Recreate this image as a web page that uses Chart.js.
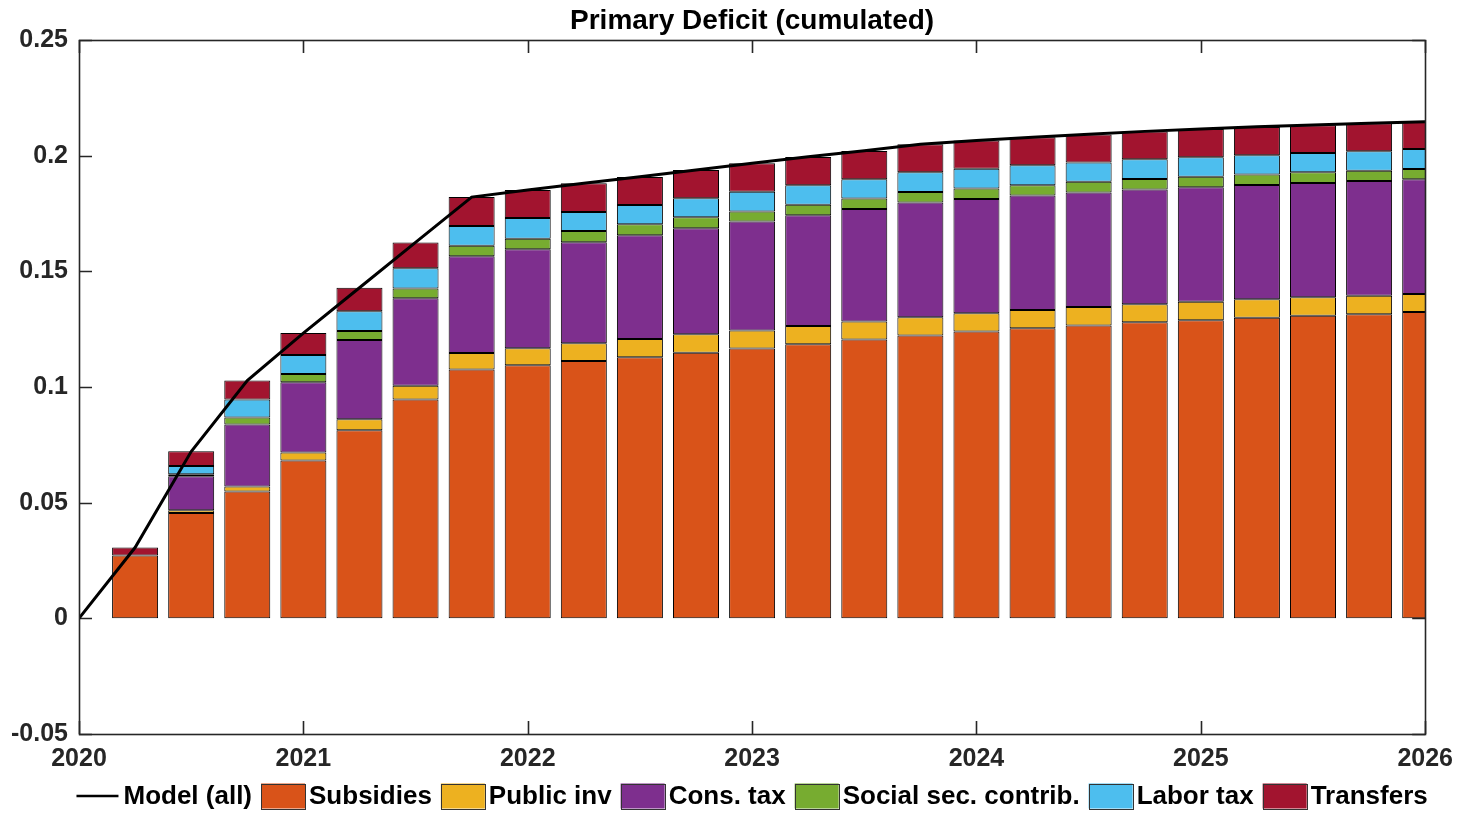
<!DOCTYPE html>
<html>
<head>
<meta charset="utf-8">
<title>Primary Deficit (cumulated)</title>
<script src="https://cdn.jsdelivr.net/npm/chart.js@4.4.1/dist/chart.umd.min.js"></script>
<style>
  html, body { margin: 0; padding: 0; background: #ffffff; }
  canvas { display: block; }
</style>
</head>
<body>
<canvas id="deficit" width="1463" height="814"></canvas>
<script>
// Quarterly periods (decimal years) for the decomposition bars
const quarters = [
  2020.25, 2020.5, 2020.75, 2021.0, 2021.25, 2021.5, 2021.75, 2022.0,
  2022.25, 2022.5, 2022.75, 2023.0, 2023.25, 2023.5, 2023.75, 2024.0,
  2024.25, 2024.5, 2024.75, 2025.0, 2025.25, 2025.5, 2025.75, 2026.0
];

// Contribution of each instrument to the cumulated primary deficit (share of GDP)
const subsidies = [
  0.0272, 0.0455, 0.0548, 0.0682, 0.0813, 0.0946, 0.1076, 0.1094,
  0.1112, 0.1129, 0.1148, 0.1166, 0.1185, 0.1205, 0.1223, 0.1240,
  0.1254, 0.1266, 0.1280, 0.1289, 0.1299, 0.1308, 0.1315, 0.1324
];
const publicInv = [
  0.0000, 0.0012, 0.0022, 0.0035, 0.0048, 0.0059, 0.0071, 0.0074,
  0.0077, 0.0078, 0.0080, 0.0078, 0.0079, 0.0078, 0.0079, 0.0079,
  0.0079, 0.0080, 0.0078, 0.0079, 0.0080, 0.0080, 0.0079, 0.0078
];
const consTax = [
  0.0000, 0.0147, 0.0268, 0.0303, 0.0342, 0.0379, 0.0418, 0.0427,
  0.0437, 0.0449, 0.0458, 0.0471, 0.0478, 0.0486, 0.0496, 0.0494,
  0.0495, 0.0495, 0.0496, 0.0496, 0.0494, 0.0494, 0.0496, 0.0496
];
const socialSec = [
  0.0000, 0.0009, 0.0030, 0.0036, 0.0039, 0.0042, 0.0046, 0.0046,
  0.0048, 0.0048, 0.0048, 0.0044, 0.0046, 0.0046, 0.0045, 0.0045,
  0.0044, 0.0046, 0.0045, 0.0045, 0.0046, 0.0046, 0.0045, 0.0044
];
const laborTax = [
  0.0000, 0.0035, 0.0078, 0.0082, 0.0085, 0.0087, 0.0085, 0.0090,
  0.0083, 0.0083, 0.0082, 0.0085, 0.0084, 0.0083, 0.0085, 0.0085,
  0.0087, 0.0084, 0.0085, 0.0084, 0.0083, 0.0083, 0.0084, 0.0087
];
const transfers = [
  0.0034, 0.0064, 0.0082, 0.0095, 0.0102, 0.0112, 0.0125, 0.0121,
  0.0124, 0.0121, 0.0122, 0.0123, 0.0122, 0.0122, 0.0121, 0.0123,
  0.0121, 0.0121, 0.0121, 0.0122, 0.0122, 0.0121, 0.0121, 0.0117
];

// Full model path (all instruments together), starting from zero in 2020
const modelDates = [
  2020.0, 2020.25, 2020.5, 2020.75, 2021.0, 2021.25, 2021.5, 2021.75, 2022.0,
  2022.25, 2022.5, 2022.75, 2023.0, 2023.25, 2023.5, 2023.75, 2024.0,
  2024.25, 2024.5, 2024.75, 2025.0, 2025.25, 2025.5, 2025.75, 2026.0
];
const modelAll = [
  0.0, 0.0306, 0.0721, 0.1028, 0.1233, 0.1429, 0.1625, 0.1821, 0.1852,
  0.1881, 0.1909, 0.1938, 0.1967, 0.1995, 0.2021, 0.2049, 0.2066,
  0.2080, 0.2093, 0.2105, 0.2115, 0.2125, 0.2133, 0.2140, 0.2147
];

// Axis ticks
const xTickValues = [2020, 2021, 2022, 2023, 2024, 2025, 2026];
const xTickLabels = ['2020', '2021', '2022', '2023', '2024', '2025', '2026'];
const yTickValues = [-0.05, 0, 0.05, 0.1, 0.15, 0.2, 0.25];
const yTickLabels = ['-0.05', '0', '0.05', '0.1', '0.15', '0.2', '0.25'];

const FONT = '"Liberation Sans", Arial, Helvetica, sans-serif';
const AXIS_COLOR = '#262626';
const TICK_LEN = 13;

const toPoints = (xs, ys) => ys.map((v, i) => ({ x: xs[i], y: v }));

const barStyle = (label, values, colour) => ({
  type: 'bar',
  label: label,
  data: toPoints(quarters, values),
  backgroundColor: colour,
  borderColor: '#000000',
  borderWidth: 1,
  borderSkipped: false,
  inflateAmount: 0,
  stack: 'parts',
  barPercentage: 0.82,
  categoryPercentage: 1.0
});

// Keep the title centred over the plotting area rather than the whole canvas
const centreTitle = {
  id: 'centreTitle',
  afterLayout(chart) {
    const t = chart.titleBlock;
    if (t) {
      t.left = chart.chartArea.left;
      t.right = chart.chartArea.right;
      t.width = t.right - t.left;
    }
  }
};

// Boxed axes with inward tick marks on all four sides
const boxedAxes = {
  id: 'boxedAxes',
  beforeDatasetsDraw(chart) {
    const { ctx, chartArea: a, scales: { x, y } } = chart;
    ctx.save();
    ctx.strokeStyle = AXIS_COLOR;
    ctx.lineWidth = 1.6;
    ctx.beginPath();
    for (const v of xTickValues) {
      const px = Math.round(x.getPixelForValue(v)) + 0.5;
      ctx.moveTo(px, a.bottom); ctx.lineTo(px, a.bottom - TICK_LEN);
      ctx.moveTo(px, a.top); ctx.lineTo(px, a.top + TICK_LEN);
    }
    for (const v of yTickValues) {
      const py = Math.round(y.getPixelForValue(v)) + 0.5;
      ctx.moveTo(a.left, py); ctx.lineTo(a.left + TICK_LEN, py);
      ctx.moveTo(a.right, py); ctx.lineTo(a.right - TICK_LEN, py);
    }
    ctx.stroke();
    ctx.restore();
  },
  afterDatasetsDraw(chart) {
    const { ctx, chartArea: a } = chart;
    ctx.save();
    ctx.strokeStyle = AXIS_COLOR;
    ctx.lineWidth = 1.6;
    ctx.strokeRect(Math.round(a.left) + 0.5, Math.round(a.top) + 0.5,
                   Math.round(a.right - a.left), Math.round(a.bottom - a.top));
    ctx.restore();
  }
};

// Single-row legend under the x axis: line sample for the model, boxes for the parts
const rowLegend = {
  id: 'rowLegend',
  afterDraw(chart) {
    const { ctx, chartArea: a } = chart;
    const LINE_W = 42, LINE_GAP = 5, BOX_W = 44, BOX_H = 25, BOX_GAP = 4, ITEM_GAP = 9;
    ctx.save();
    ctx.font = 'bold 26px ' + FONT;
    ctx.textBaseline = 'middle';
    const items = chart.data.datasets.map(ds => ({
      label: ds.label,
      isLine: ds.type === 'line',
      fill: ds.backgroundColor,
      stroke: ds.borderColor,
      textW: ctx.measureText(ds.label).width
    }));
    let total = 0;
    items.forEach((it, i) => {
      it.w = (it.isLine ? LINE_W + LINE_GAP : BOX_W + BOX_GAP) + it.textW;
      total += it.w + (i ? ITEM_GAP : 0);
    });
    let x = (a.left + a.right) / 2 - total / 2;
    const yc = chart.height - 18;
    for (const it of items) {
      if (it.isLine) {
        ctx.strokeStyle = it.stroke;
        ctx.lineWidth = 2.5;
        ctx.beginPath();
        ctx.moveTo(x, yc); ctx.lineTo(x + LINE_W, yc);
        ctx.stroke();
        ctx.fillStyle = '#000';
        ctx.fillText(it.label, x + LINE_W + LINE_GAP, yc + 1);
      } else {
        ctx.fillStyle = it.fill;
        ctx.fillRect(x, yc - BOX_H / 2, BOX_W, BOX_H);
        ctx.strokeStyle = '#333';
        ctx.lineWidth = 1;
        ctx.strokeRect(Math.round(x) + 0.5, Math.round(yc - BOX_H / 2) + 0.5, BOX_W, BOX_H);
        ctx.fillStyle = '#000';
        ctx.fillText(it.label, x + BOX_W + BOX_GAP, yc + 1);
      }
      x += it.w + ITEM_GAP;
    }
    ctx.restore();
  }
};

Chart.defaults.font.family = FONT;

new Chart(document.getElementById('deficit'), {
  type: 'bar',
  data: {
    datasets: [
      {
        type: 'line',
        label: 'Model (all)',
        data: toPoints(modelDates, modelAll),
        borderColor: '#000000',
        backgroundColor: '#000000',
        borderWidth: 3,
        pointRadius: 0,
        tension: 0,
        fill: false
      },
      barStyle('Subsidies', subsidies, '#D95319'),
      barStyle('Public inv', publicInv, '#EDB120'),
      barStyle('Cons. tax', consTax, '#7E2F8E'),
      barStyle('Social sec. contrib.', socialSec, '#77AC30'),
      barStyle('Labor tax', laborTax, '#4DBEEE'),
      barStyle('Transfers', transfers, '#A2142F')
    ]
  },
  options: {
    responsive: false,
    animation: false,
    devicePixelRatio: 1,
    layout: { padding: { left: 0, right: 37, top: 0, bottom: 40 } },
    plugins: {
      legend: { display: false },
      tooltip: { enabled: false },
      title: {
        display: true,
        text: 'Primary Deficit (cumulated)',
        color: '#000000',
        font: { size: 28, weight: 'bold', family: FONT },
        padding: { top: 4, bottom: 2.4 }
      }
    },
    scales: {
      x: {
        type: 'linear',
        min: 2020,
        max: 2026,
        offset: false,
        stacked: true,
        grid: { display: false, drawTicks: false, offset: false },
        border: { display: false },
        afterBuildTicks: s => { s.ticks = xTickValues.map(v => ({ value: v })); },
        afterFit: s => { s.height = 40; },
        ticks: {
          autoSkip: false,
          maxRotation: 0,
          padding: 10,
          color: AXIS_COLOR,
          font: { size: 25, weight: 'bold' },
          callback: v => xTickLabels[xTickValues.indexOf(v)]
        }
      },
      y: {
        type: 'linear',
        min: -0.05,
        max: 0.25,
        stacked: true,
        grid: { display: false, drawTicks: false },
        border: { display: false },
        afterBuildTicks: s => { s.ticks = yTickValues.map(v => ({ value: v })); },
        afterFit: s => { s.width = 79; },
        ticks: {
          padding: 11,
          color: AXIS_COLOR,
          font: { size: 25, weight: 'bold' },
          callback: v => yTickLabels[yTickValues.findIndex(t => Math.abs(t - v) < 1e-9)]
        }
      }
    }
  },
  plugins: [centreTitle, boxedAxes, rowLegend]
});
</script>
</body>
</html>
